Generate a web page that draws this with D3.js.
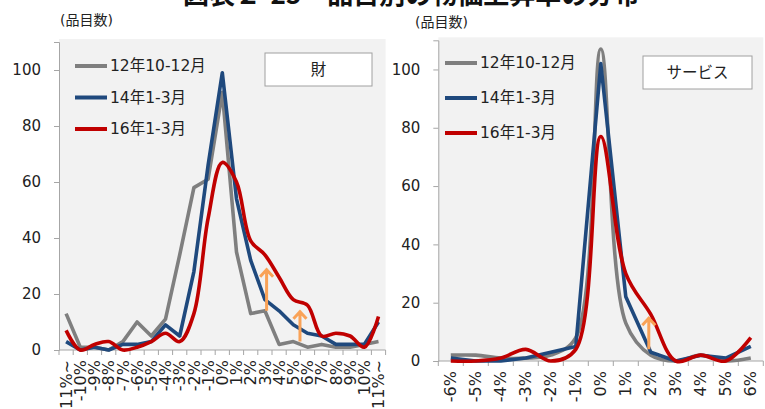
<!DOCTYPE html>
<html>
<head>
<meta charset="utf-8">
<script src="https://cdn.jsdelivr.net/npm/d3@7"></script>
<style>
  body { margin: 0; background: #fff; }
  svg { display: block; }
</style>
</head>
<body>
<svg id="chart" width="765" height="409"></svg>
<script>
// ---- data ----
const titleText = '図表２-25　品目別の物価上昇率の分布';
const unitLabel = '(品目数)';
const seriesNames = ['12年10-12月', '14年1-3月', '16年1-3月'];
const yTicks = [0, 20, 40, 60, 80, 100];

// 財 (goods)
const goodsCats = ['-11%~', '-10%', '-9%', '-8%', '-7%', '-6%', '-5%', '-4%', '-3%', '-2%', '-1%',
  '0%', '1%', '2%', '3%', '4%', '5%', '6%', '7%', '8%', '9%', '10%', '11%~'];
const goods12 = [13, 1, 1, 0, 3, 10, 5, 11, 34, 58, 61, 92, 35, 13, 14, 2, 3, 1, 2, 1, 1, 2, 3];
const goods14 = [3, 0, 1, 0, 2, 2, 3, 9, 5, 28, 66, 99, 54, 32, 18, 14, 9, 6, 5, 2, 2, 2, 10];
const goods16 = [7, 0, 2, 3, 0, 1, 3, 6, 3, 13, 47, 67, 60, 39, 34, 26, 18, 16, 5, 6, 5, 1, 12];

// サービス (services)
const servCats = ['-6%', '-5%', '-4%', '-3%', '-2%', '-1%', '0%', '1%', '2%', '3%', '4%', '5%', '6%'];
const serv12 = [2, 2, 1, 1, 2, 8, 107, 13, 2, 0, 2, 0, 1];
const serv14 = [1, 0, 0, 1, 3, 5, 102, 22, 3, 0, 2, 1, 5];
const serv16 = [0, 0, 1, 4, 0, 4, 77, 30, 16, 0, 2, 0, 8];

// orange arrows: category, offset in bands, value at foot and at tip
const goodsArrows = [
  {cat: '3%', shift: 0.12, from: 14, to: 29},
  {cat: '6%', shift: -0.53, from: 3, to: 14},
];
const servArrows = [
  {cat: '2%', shift: -0.08, from: 4, to: 15},
];

// ---- styles ----
const font = "'DejaVu Sans', 'Noto Sans CJK JP', sans-serif";
const colors = ['#7f7f7f', '#1f497d', '#c00000'];
const arrowColor = '#f9a257';
const axisColor = '#a6a6a6';

const smooth = d3.curveCatmullRom.alpha(0.5);

const svg = d3.select('#chart');

// title, mostly cut off by the top edge like in the source image
svg.append('text')
  .attr('x', 183)
  .attr('y', 4)
  .attr('font-family', "'Noto Sans CJK JP', sans-serif")
  .attr('font-weight', 'bold')
  .attr('font-size', 26)
  .attr('fill', '#111')
  .text(titleText);

const drawPanel = ({cats, series, curves, left, right, top, zero, unit, legend, box, arrows}) => {
  const g = svg.append('g');

  const x = d3.scaleBand().domain(cats).range([left, right]);
  const y = d3.scaleLinear().domain([0, 110]).range([zero, top]);

  // plot background
  g.append('rect')
    .attr('x', left)
    .attr('y', top - 3)
    .attr('width', right - left)
    .attr('height', zero - top + 3)
    .attr('fill', '#f2f2f2');

  // y axis
  const yAxis = g.append('g')
    .attr('transform', `translate(${left},0)`)
    .call(d3.axisLeft(y).tickValues(yTicks).tickSize(5).tickPadding(13));
  yAxis.select('.domain').attr('stroke', axisColor);
  yAxis.selectAll('.tick line').attr('stroke', axisColor);
  yAxis.selectAll('.tick text')
    .attr('font-family', font)
    .attr('font-size', 15)
    .attr('fill', '#222');

  // x axis line + boundary ticks
  g.append('line')
    .attr('x1', left).attr('x2', right)
    .attr('y1', zero).attr('y2', zero)
    .attr('stroke', axisColor);
  const edges = cats.map((c) => x(c)).concat([right]);
  g.selectAll('.xtick')
    .data(edges)
    .join('line')
    .attr('class', 'xtick')
    .attr('x1', (d) => d).attr('x2', (d) => d)
    .attr('y1', zero).attr('y2', zero + 5)
    .attr('stroke', axisColor);

  g.selectAll('.xlabel')
    .data(cats)
    .join('text')
    .attr('class', 'xlabel')
    .attr('transform', (d) => `translate(${x(d) + x.bandwidth() / 2},${zero + 10}) rotate(-90)`)
    .attr('text-anchor', 'end')
    .attr('dy', '0.35em')
    .attr('font-family', font)
    .attr('font-size', 16)
    .attr('fill', '#222')
    .text((d) => d);

  // unit label
  g.append('text')
    .attr('x', unit.x)
    .attr('y', unit.y)
    .attr('font-family', font)
    .attr('font-size', 14)
    .attr('fill', '#222')
    .text(unitLabel);

  // lines
  series.forEach((vals, i) => {
    const line = d3.line()
      .curve(curves[i])
      .x((d, j) => x(cats[j]) + x.bandwidth() / 2)
      .y((d) => y(d));
    g.append('path')
      .datum(vals)
      .attr('fill', 'none')
      .attr('stroke', colors[i])
      .attr('stroke-width', 3.6)
      .attr('stroke-linejoin', 'round')
      .attr('d', line);
  });

  // arrows
  arrows.forEach((a) => {
    const ax = x(a.cat) + x.bandwidth() * (0.5 + a.shift);
    const yb = y(a.from);
    const yt = y(a.to);
    g.append('path')
      .attr('d', `M${ax},${yb}L${ax},${yt}M${ax - 6.5},${yt + 8}L${ax},${yt + 1}L${ax + 6.5},${yt + 8}`)
      .attr('fill', 'none')
      .attr('stroke', arrowColor)
      .attr('stroke-width', 3);
  });

  // legend
  seriesNames.forEach((name, i) => {
    const ly = legend.y + legend.step * i;
    g.append('line')
      .attr('x1', legend.x).attr('x2', legend.x + 32)
      .attr('y1', ly).attr('y2', ly)
      .attr('stroke', colors[i])
      .attr('stroke-width', 4);
    g.append('text')
      .attr('x', legend.x + 35)
      .attr('y', ly)
      .attr('dy', '0.35em')
      .attr('font-family', font)
      .attr('font-size', 15.5)
      .attr('fill', '#222')
      .text(name);
  });

  // panel name box
  g.append('rect')
    .attr('x', box.x).attr('y', box.y)
    .attr('width', box.w).attr('height', box.h)
    .attr('fill', '#fff')
    .attr('stroke', '#a0a0a0');
  g.append('text')
    .attr('x', box.x + box.w / 2)
    .attr('y', box.y + box.h / 2)
    .attr('dy', '0.35em')
    .attr('text-anchor', 'middle')
    .attr('font-family', font)
    .attr('font-size', 15.5)
    .attr('fill', '#222')
    .text(box.text);
};

drawPanel({
  cats: goodsCats,
  series: [goods12, goods14, goods16],
  curves: [d3.curveLinear, d3.curveLinear, smooth],
  left: 59, right: 385.6, top: 42, zero: 350,
  unit: {x: 60, y: 25},
  legend: {x: 75, y: 66, step: 31.5},
  box: {x: 265, y: 53, w: 107, h: 33, text: '財'},
  arrows: goodsArrows,
});

drawPanel({
  cats: servCats,
  series: [serv12, serv14, serv16],
  curves: [smooth, d3.curveLinear, smooth],
  left: 438.3, right: 763.3, top: 40.3, zero: 361,
  unit: {x: 415, y: 27},
  legend: {x: 445, y: 63, step: 35},
  box: {x: 643, y: 56, w: 109, h: 33, text: 'サービス'},
  arrows: servArrows,
});
</script>
</body>
</html>
